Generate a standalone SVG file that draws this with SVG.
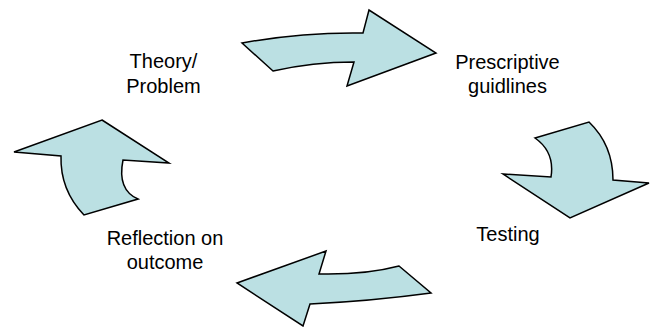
<svg xmlns="http://www.w3.org/2000/svg" width="650" height="327" viewBox="0 0 650 327">
<style>
.arrow{fill:#bbe0e3;stroke:#000;stroke-width:1.5;stroke-linejoin:miter}
.lbl{font-family:"Liberation Sans",Arial,sans-serif;font-size:20px;fill:#000;text-anchor:middle}
</style>
<rect width="650" height="327" fill="#fff"/>
<g id="connectors">
<path class="arrow" d="M242,43 Q302,32 363,33 L369,10 L436,53 L347,86 L354,62 Q313,62 273,71 Z"/>
<path class="arrow" d="M535,138 L589,122 Q613,145 613,180 L649,183 L570,218 L503,174 L551,177 Q555,152 535,138 Z"/>
<path class="arrow" d="M399,266 L431,293 Q372,301 310,304 L303,326 L237,283 L326,251 L319,274 Q365,275 399,266 Z"/>
<path class="arrow" d="M102,120 L169,163 L123,160 Q117,190 138,199 L84,215 Q60,190 61,156 L14,152 Z"/>
</g>
<g id="theory"><text class="lbl" x="163.5" y="68">Theory/</text><text class="lbl" x="163.5" y="93">Problem</text></g>
<g id="prescriptive"><text class="lbl" x="507.5" y="69">Prescriptive</text><text class="lbl" x="507.5" y="93">guidlines</text></g>
<g id="testing"><text class="lbl" x="508" y="241">Testing</text></g>
<g id="reflection"><text class="lbl" x="165" y="245">Reflection on</text><text class="lbl" x="165" y="269">outcome</text></g>
</svg>
